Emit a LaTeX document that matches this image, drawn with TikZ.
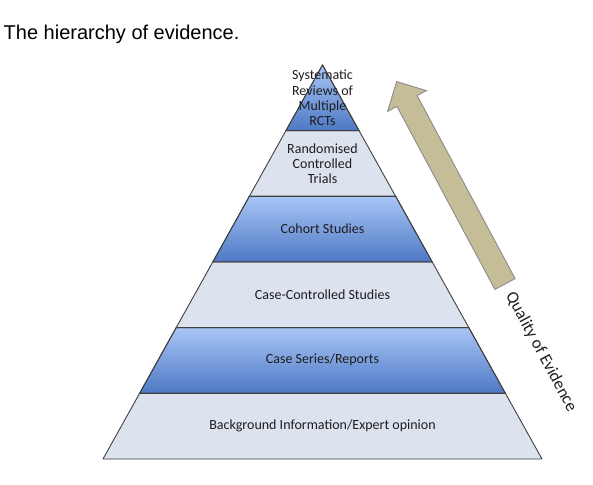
\documentclass[tikz,border=0pt]{standalone}
\usepackage{fontspec}
\setmainfont{Carlito}
\newfontfamily\arialf{Liberation Sans}
\usetikzlibrary{calc}
\definecolor{bandlight}{RGB}{220,227,239}
\definecolor{bandtop}{RGB}{168,198,246}
\definecolor{bandbot}{RGB}{78,120,196}
\definecolor{edgegray}{RGB}{64,64,64}
\definecolor{arrowtan}{RGB}{196,189,151}
\definecolor{arrowedge}{RGB}{140,140,140}
\definecolor{txt}{RGB}{30,30,30}
\tikzset{
  lightband/.style={fill=bandlight,draw=edgegray,line width=0.9pt,line join=round},
  blueband/.style={top color=bandtop,bottom color=bandbot,draw=edgegray,line width=0.9pt,line join=round},
  lbl/.style={text=txt,font=\fontsize{14}{15.3}\selectfont,align=center,inner sep=0pt},
}
\begin{document}
\begin{tikzpicture}[x=1pt,y=-1pt]
\useasboundingbox (0,0) rectangle (593,484);
% pyramid geometry
\coordinate (A) at (322.5,65);
\coordinate (BL) at (103,459);
\coordinate (BR) at (542,459);
\foreach \k in {1,...,6}{
  \coordinate (L\k) at ($(A)!\k/6!(BL)$);
  \coordinate (R\k) at ($(A)!\k/6!(BR)$);
}
% bands
\shade[blueband] (A) -- (R1) -- (L1) -- cycle;
\path[lightband] (L1) -- (R1) -- (R2) -- (L2) -- cycle;
\shade[blueband] (L2) -- (R2) -- (R3) -- (L3) -- cycle;
\path[lightband] (L3) -- (R3) -- (R4) -- (L4) -- cycle;
\shade[blueband] (L4) -- (R4) -- (R5) -- (L5) -- cycle;
\path[lightband] (L5) -- (R5) -- (R6) -- (L6) -- cycle;
\draw[edgegray,line width=0.9pt] (A) -- (R1) -- (L1) -- cycle;
\draw[edgegray,line width=0.9pt] (L2) -- (R2) -- (R3) -- (L3) -- cycle;
\draw[edgegray,line width=0.9pt] (L4) -- (R4) -- (R5) -- (L5) -- cycle;
% labels
\node[lbl] (sr) at (322.5,98) {Systematic\\Reviews of\\Multiple\\RCTs};
\node[lbl] (rct) at (322.5,163.5) {Randomised\\Controlled\\Trials};
\node[lbl] (coh) at (322.5,229) {Cohort Studies};
\node[lbl] (cc) at (322.5,294.5) {Case-Controlled Studies};
\node[lbl] (cs) at (322.5,360) {Case Series/Reports};
\node[lbl] (bg) at (322.5,426) {Background Information/Expert opinion};
% quality arrow
\coordinate (t1) at (494.9,289.4);
\coordinate (t2) at (515.1,278.6);
\coordinate (n2) at (417.1,95.6);
\coordinate (h2) at (426.4,90.6);
\coordinate (tip) at (396.6,81.6);
\coordinate (h1) at (387.6,111.4);
\coordinate (n1) at (396.9,106.4);
\draw[fill=arrowtan,draw=arrowedge,line width=0.9pt,line join=miter]
  (t1) -- (t2) -- (n2) -- (h2) -- (tip) -- (h1) -- (n1) -- cycle;
\node[text=txt,font=\fontsize{17}{17}\selectfont,rotate=-61.8,inner sep=0pt] (qe) at (541,352) {Quality of Evidence};
% title
\node[font=\arialf\fontsize{20}{20}\selectfont,anchor=base west,inner sep=0pt] (title) at (3.5,39.5) {The hierarchy of evidence.};
\end{tikzpicture}
\end{document}
